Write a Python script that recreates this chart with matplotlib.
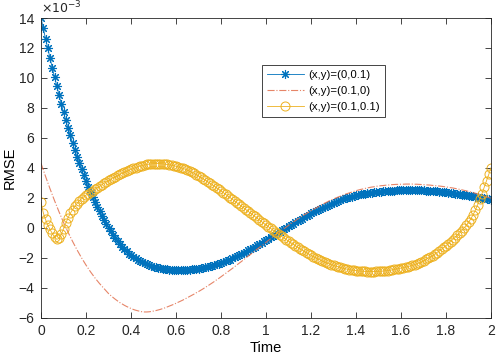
import numpy as np
import matplotlib
matplotlib.use('Agg')
from matplotlib import pyplot as plt

# time axis, 0..2 in steps of 0.01
time = np.round(np.arange(201) * 0.01, 2)

# (x,y)=(0,0.1)  values in units of 1e-3
rmse_a = [14.0, 13.31, 12.63, 11.97, 11.32, 10.68, 10.07, 9.47, 8.87, 8.28,
          7.70, 7.17, 6.66, 6.16, 5.67, 5.19, 4.74, 4.31, 3.89, 3.49,
          3.10, 2.73, 2.38, 2.04, 1.71, 1.40, 1.10, 0.81, 0.53, 0.26,
          0.00, -0.25, -0.48, -0.70, -0.91, -1.10, -1.28, -1.44, -1.59, -1.73,
          -1.85, -1.96, -2.06, -2.15, -2.23, -2.31, -2.38, -2.44, -2.50, -2.55,
          -2.60, -2.64, -2.68, -2.71, -2.74, -2.77, -2.79, -2.81, -2.82, -2.83,
          -2.84, -2.84, -2.83, -2.83, -2.82, -2.81, -2.80, -2.78, -2.77, -2.75,
          -2.73, -2.71, -2.68, -2.65, -2.62, -2.58, -2.54, -2.50, -2.46, -2.41,
          -2.36, -2.31, -2.25, -2.19, -2.13, -2.06, -1.99, -1.91, -1.84, -1.76,
          -1.68, -1.60, -1.52, -1.43, -1.35, -1.26, -1.17, -1.08, -1.00, -0.91,
          -0.82, -0.73, -0.64, -0.55, -0.46, -0.37, -0.28, -0.19, -0.10, -0.01,
          0.08, 0.17, 0.26, 0.35, 0.43, 0.52, 0.61, 0.69, 0.78, 0.86,
          0.95, 1.03, 1.11, 1.18, 1.26, 1.33, 1.40, 1.47, 1.54, 1.61,
          1.67, 1.73, 1.79, 1.85, 1.90, 1.95, 2.00, 2.04, 2.08, 2.12,
          2.16, 2.19, 2.22, 2.25, 2.28, 2.30, 2.32, 2.34, 2.36, 2.38,
          2.40, 2.41, 2.42, 2.43, 2.45, 2.46, 2.47, 2.48, 2.49, 2.49,
          2.50, 2.50, 2.51, 2.51, 2.51, 2.51, 2.51, 2.50, 2.50, 2.49,
          2.49, 2.48, 2.47, 2.46, 2.45, 2.44, 2.43, 2.41, 2.39, 2.38,
          2.36, 2.34, 2.32, 2.30, 2.28, 2.26, 2.24, 2.21, 2.19, 2.16,
          2.14, 2.11, 2.09, 2.06, 2.04, 2.01, 1.98, 1.95, 1.93, 1.90,
          1.87]

# (x,y)=(0.1,0)
rmse_b = [4.30, 3.86, 3.43, 3.01, 2.60, 2.20, 1.81, 1.43, 1.06, 0.70,
          0.35, 0.02, -0.30, -0.61, -0.91, -1.20, -1.48, -1.75, -2.01, -2.26,
          -2.50, -2.73, -2.95, -3.16, -3.36, -3.55, -3.73, -3.90, -4.06, -4.23,
          -4.40, -4.53, -4.66, -4.78, -4.89, -5.00, -5.09, -5.18, -5.26, -5.33,
          -5.40, -5.46, -5.51, -5.55, -5.59, -5.62, -5.63, -5.63, -5.62, -5.60,
          -5.57, -5.54, -5.50, -5.46, -5.41, -5.36, -5.30, -5.24, -5.18, -5.12,
          -5.05, -4.98, -4.91, -4.84, -4.76, -4.68, -4.60, -4.52, -4.44, -4.35,
          -4.27, -4.18, -4.09, -3.99, -3.90, -3.80, -3.70, -3.60, -3.49, -3.39,
          -3.28, -3.17, -3.06, -2.95, -2.84, -2.73, -2.61, -2.50, -2.38, -2.27,
          -2.15, -2.03, -1.91, -1.80, -1.68, -1.56, -1.44, -1.33, -1.21, -1.10,
          -0.98, -0.86, -0.75, -0.63, -0.52, -0.40, -0.29, -0.18, -0.07, 0.04,
          0.15, 0.26, 0.36, 0.46, 0.57, 0.67, 0.77, 0.86, 0.95, 1.04,
          1.13, 1.22, 1.30, 1.38, 1.47, 1.55, 1.63, 1.70, 1.78, 1.85,
          1.92, 1.98, 2.04, 2.10, 2.16, 2.22, 2.27, 2.32, 2.37, 2.42,
          2.47, 2.51, 2.55, 2.58, 2.62, 2.65, 2.68, 2.71, 2.73, 2.76,
          2.78, 2.80, 2.81, 2.83, 2.84, 2.86, 2.87, 2.88, 2.89, 2.89,
          2.90, 2.90, 2.91, 2.91, 2.91, 2.91, 2.90, 2.90, 2.89, 2.88,
          2.87, 2.86, 2.85, 2.84, 2.82, 2.81, 2.79, 2.78, 2.76, 2.74,
          2.72, 2.70, 2.67, 2.65, 2.62, 2.59, 2.56, 2.53, 2.49, 2.46,
          2.42, 2.38, 2.34, 2.30, 2.25, 2.21, 2.16, 2.11, 2.06, 2.01,
          1.96]

# (x,y)=(0.1,0.1)
rmse_c = [1.70, 1.00, 0.55, 0.18, -0.12, -0.38, -0.62, -0.78, -0.72, -0.45,
          -0.08, 0.30, 0.65, 0.95, 1.20, 1.42, 1.61, 1.78, 1.93, 2.06,
          2.17, 2.28, 2.38, 2.48, 2.57, 2.67, 2.77, 2.87, 2.97, 3.06,
          3.15, 3.24, 3.33, 3.41, 3.49, 3.57, 3.64, 3.71, 3.77, 3.83,
          3.89, 3.95, 4.01, 4.06, 4.11, 4.15, 4.19, 4.22, 4.24, 4.26,
          4.27, 4.28, 4.28, 4.27, 4.26, 4.24, 4.22, 4.20, 4.17, 4.14,
          4.10, 4.06, 4.01, 3.96, 3.91, 3.85, 3.78, 3.71, 3.63, 3.54,
          3.45, 3.36, 3.27, 3.17, 3.08, 2.98, 2.88, 2.77, 2.67, 2.56,
          2.45, 2.34, 2.23, 2.12, 2.01, 1.90, 1.79, 1.67, 1.56, 1.44,
          1.33, 1.21, 1.10, 0.98, 0.87, 0.75, 0.64, 0.52, 0.41, 0.29,
          0.18, 0.07, -0.04, -0.15, -0.26, -0.37, -0.48, -0.59, -0.69, -0.80,
          -0.90, -1.00, -1.10, -1.20, -1.30, -1.40, -1.49, -1.58, -1.67, -1.76,
          -1.85, -1.93, -2.00, -2.08, -2.15, -2.22, -2.28, -2.35, -2.41, -2.47,
          -2.52, -2.57, -2.61, -2.66, -2.70, -2.74, -2.77, -2.80, -2.83, -2.85,
          -2.87, -2.89, -2.90, -2.91, -2.92, -2.93, -2.93, -2.93, -2.93, -2.92,
          -2.92, -2.91, -2.90, -2.88, -2.87, -2.85, -2.82, -2.79, -2.76, -2.73,
          -2.70, -2.67, -2.64, -2.60, -2.56, -2.52, -2.47, -2.42, -2.36, -2.30,
          -2.20, -2.12, -2.04, -1.95, -1.86, -1.76, -1.66, -1.55, -1.44, -1.32,
          -1.20, -1.07, -0.94, -0.80, -0.66, -0.51, -0.36, -0.20, -0.03, 0.15,
          0.35, 0.58, 0.85, 1.15, 1.50, 1.88, 2.28, 2.70, 3.12, 3.55,
          4.00]

labels = ['(x,y)=(0,0.1)', '(x,y)=(0.1,0)', '(x,y)=(0.1,0.1)']
xticks = [0, 0.2, 0.4, 0.6, 0.8, 1.0, 1.2, 1.4, 1.6, 1.8, 2.0]
xticklabels = ['0', '0.2', '0.4', '0.6', '0.8', '1', '1.2', '1.4', '1.6', '1.8', '2']
yticks = [-6, -4, -2, 0, 2, 4, 6, 8, 10, 12, 14]

plt.rcParams['font.family'] = ['Liberation Sans', 'DejaVu Sans']
axcol = '#262626'

fig = plt.figure(figsize=(4.98, 3.61), dpi=100)
ax = fig.add_axes([41/498, 1-317.5/361, 450/498, 299.5/361])

# asterisk marker like matlab '*'
ax.plot(time, rmse_a, '-', color='#0072BD', lw=0.6, marker=(8, 2, 0), ms=6.5, mew=0.8,
        label=labels[0])
ax.plot(time, rmse_b, '-.', color='#E2704E', lw=0.8, alpha=0.85, label=labels[1])
ax.plot(time, rmse_c, '-', color='#EDB120', lw=0.6, marker='o', ms=6.5, mew=0.7,
        mfc='none', label=labels[2])

ax.set_xlim(0, 2)
ax.set_ylim(-6, 14)
ax.set_xticks(xticks)
ax.set_xticklabels(xticklabels)
ax.set_yticks(yticks)
ax.tick_params(direction='in', top=True, right=True, length=4, width=0.6,
               colors=axcol, labelsize=10, pad=5)
for s in ax.spines.values():
    s.set_color(axcol)
    s.set_linewidth(0.6)

ax.set_xlabel('Time', fontsize=10.5, color='black', labelpad=2)
ax.set_ylabel('RMSE', fontsize=10.5, color='black', labelpad=1)
ax.text(0.0, 1.005, r'$\times10^{-3}$', transform=ax.transAxes, fontsize=9,
        color=axcol, ha='left', va='bottom')

leg = ax.legend(loc='upper left', bbox_to_anchor=(0.491, 0.842), fontsize=8.2,
                handlelength=3.3, labelspacing=0.55, borderpad=0.4,
                borderaxespad=0, handletextpad=0.4, fancybox=False, framealpha=1)
leg.get_frame().set_edgecolor(axcol)
leg.get_frame().set_linewidth(0.6)

fig.savefig('out.png', dpi=100)
